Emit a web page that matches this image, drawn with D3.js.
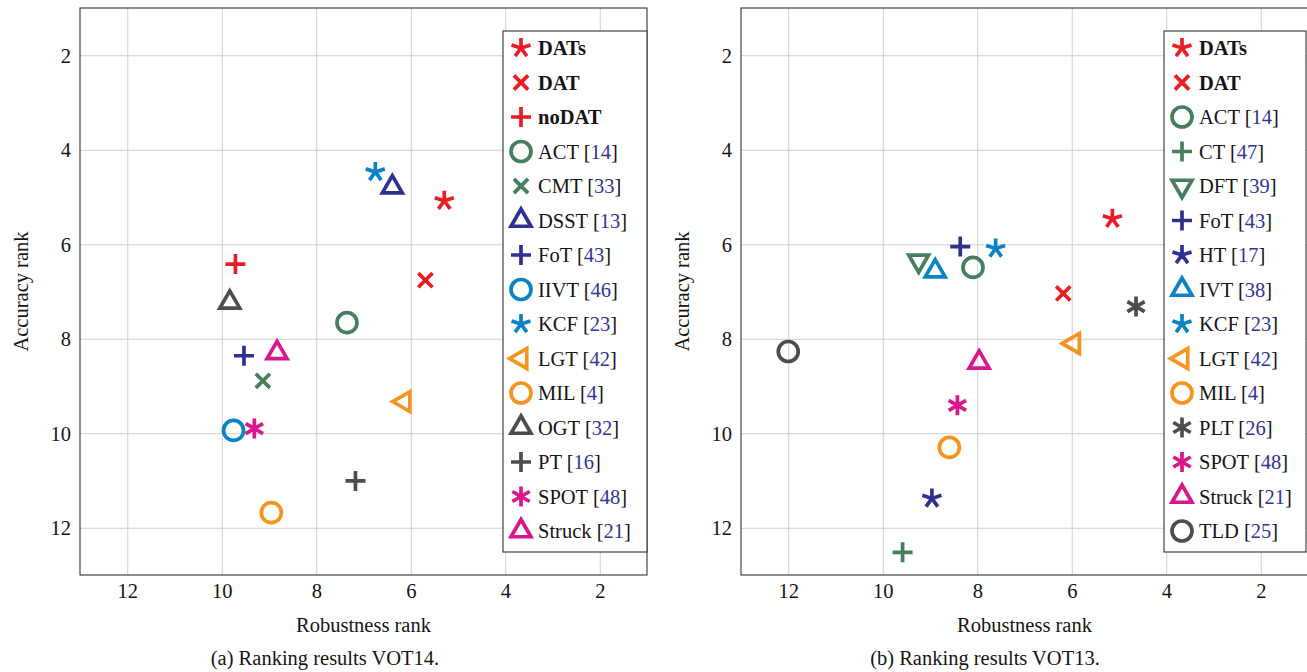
<!DOCTYPE html>
<html><head><meta charset="utf-8">
<script src="https://cdn.jsdelivr.net/npm/d3@7"></script>
<style>
body{margin:0;background:#fff}
svg{display:block}
text{font-family:"Liberation Serif","Times New Roman",serif;fill:#151515}
</style>
</head><body><svg id="c" width="1307" height="672"></svg>
<script>
// ---------- data ----------
const xTickValues = [12, 10, 8, 6, 4, 2];
const yTickValues = [2, 4, 6, 8, 10, 12];
const xDomain = [13, 1];
const yDomain = [1, 13];

const vot14Trackers   = ["DATs","DAT","noDAT","ACT","CMT","DSST","FoT","IIVT","KCF","LGT","MIL","OGT","PT","SPOT","Struck"];
const vot14Refs       = ["","","","14","33","13","43","46","23","42","4","32","16","48","21"];
const vot14Robustness = [5.29, 5.69, 9.71, 7.35, 9.13, 6.39, 9.53, 9.75, 6.75, 6.14, 8.95, 9.83, 7.17, 9.31, 8.83];
const vot14Accuracy   = [5.08, 6.76, 6.42, 7.66, 8.89, 4.79, 8.36, 9.94, 4.47, 9.33, 11.68, 7.23, 11.01, 9.90, 8.30];

const vot13Trackers   = ["DATs","DAT","ACT","CT","DFT","FoT","HT","IVT","KCF","LGT","MIL","PLT","SPOT","Struck","TLD"];
const vot13Refs       = ["","","14","47","39","43","17","38","23","42","4","26","48","21","25"];
const vot13Robustness = [5.14, 6.18, 8.09, 9.58, 9.24, 8.36, 8.96, 8.89, 7.61, 5.96, 8.59, 4.64, 8.42, 7.96, 12.0];
const vot13Accuracy   = [5.46, 7.04, 6.49, 12.52, 6.35, 6.05, 11.38, 6.57, 6.09, 8.10, 10.30, 7.32, 9.41, 8.50, 8.27];

const xLabel = "Robustness rank";
const yLabel = "Accuracy rank";
const captions = ["(a) Ranking results VOT14.", "(b) Ranking results VOT13."];

// ---------- styles ----------
const C = {
  red: "#ec1c24", green: "#457f5e", navy: "#2e3192", blue: "#0a83c6",
  orange: "#f7941d", gray: "#4d4d4f", magenta: "#d7178a"
};
const markStyle = {
  DATs:{shape:"star",color:C.red}, DAT:{shape:"x",color:C.red}, noDAT:{shape:"plus",color:C.red},
  ACT:{shape:"circle",color:C.green}, CMT:{shape:"x",color:C.green}, CT:{shape:"plus",color:C.green},
  DFT:{shape:"tridown",color:C.green},
  DSST:{shape:"tri",color:C.navy}, FoT:{shape:"plus",color:C.navy}, HT:{shape:"star",color:C.navy},
  IIVT:{shape:"circle",color:C.blue}, IVT:{shape:"tri",color:C.blue}, KCF:{shape:"star",color:C.blue},
  LGT:{shape:"trileft",color:C.orange}, MIL:{shape:"circle",color:C.orange},
  OGT:{shape:"tri",color:C.gray}, PT:{shape:"plus",color:C.gray}, PLT:{shape:"asterisk",color:C.gray},
  TLD:{shape:"circle",color:C.gray},
  SPOT:{shape:"asterisk",color:C.magenta}, Struck:{shape:"tri",color:C.magenta}
};
const SW = 3.7;

function markPath(shape){
  const p = d3.path();
  const a = 10, r = 11.5;
  const rad = d => d*Math.PI/180;
  if (shape === "star"){
    for (let k=0;k<5;k++){ const t=rad(-90+72*k); p.moveTo(0,0); p.lineTo(a*Math.cos(t), a*Math.sin(t)); }
  } else if (shape === "asterisk"){
    [90,30,-30].forEach(d=>{ const t=rad(d); p.moveTo(-a*Math.cos(t),-a*Math.sin(t)); p.lineTo(a*Math.cos(t),a*Math.sin(t)); });
  } else if (shape === "plus"){
    p.moveTo(-a,0); p.lineTo(a,0); p.moveTo(0,-a); p.lineTo(0,a);
  } else if (shape === "x"){
    const b = a*Math.SQRT1_2;
    p.moveTo(-b,-b); p.lineTo(b,b); p.moveTo(-b,b); p.lineTo(b,-b);
  } else if (shape === "circle"){
    p.moveTo(a,0); p.arc(0,0,a,0,2*Math.PI);
  } else if (shape === "tri"){
    p.moveTo(0,-r); p.lineTo(0.866*r,0.5*r); p.lineTo(-0.866*r,0.5*r); p.closePath();
  } else if (shape === "tridown"){
    p.moveTo(0,r); p.lineTo(0.866*r,-0.5*r); p.lineTo(-0.866*r,-0.5*r); p.closePath();
  } else if (shape === "trileft"){
    p.moveTo(-r,0); p.lineTo(0.5*r,-0.866*r); p.lineTo(0.5*r,0.866*r); p.closePath();
  }
  return p.toString();
}

const svg = d3.select("#c");
const FS = 20.5;

function drawPanel(cfg, names, refs, rob, acc){
  const x = d3.scaleLinear().domain(xDomain).range([cfg.left, cfg.right]);
  const y = d3.scaleLinear().domain(yDomain).range([cfg.top, cfg.bottom]);
  const g = svg.append("g");
  const H = cfg.bottom - cfg.top, W = cfg.right - cfg.left;

  // grid
  const gx = g.append("g").attr("transform",`translate(0,${cfg.bottom})`)
    .call(d3.axisBottom(x).tickValues(xTickValues).tickSize(-H).tickFormat(""));
  const gy = g.append("g").attr("transform",`translate(${cfg.left},0)`)
    .call(d3.axisLeft(y).tickValues(yTickValues).tickSize(-W).tickFormat(""));
  [gx,gy].forEach(s=>{ s.select(".domain").remove(); s.selectAll("line").attr("stroke","#cfcfcf").attr("stroke-width",1); });

  // frame
  g.append("rect").attr("x",cfg.left).attr("y",cfg.top).attr("width",W).attr("height",H)
    .attr("fill","none").attr("stroke","#333").attr("stroke-width",1.1);

  // tick labels
  const lx = g.append("g").attr("transform",`translate(0,${cfg.bottom})`)
    .call(d3.axisBottom(x).tickValues(xTickValues).tickSize(0).tickPadding(0).tickFormat(d3.format("d")));
  lx.select(".domain").remove();
  lx.selectAll("text").attr("dy",null).attr("y",23).style("font-size",FS+"px").attr("fill","#151515")
    .style("font-family","'Liberation Serif',serif");
  const ly = g.append("g").attr("transform",`translate(${cfg.left},0)`)
    .call(d3.axisLeft(y).tickValues(yTickValues).tickSize(0).tickPadding(0).tickFormat(d3.format("d")));
  ly.select(".domain").remove();
  ly.selectAll("text").attr("dy",null).attr("x",-9).attr("y",7).style("font-size",FS+"px").attr("fill","#151515")
    .style("font-family","'Liberation Serif',serif");

  // axis labels
  g.append("text").attr("x",(cfg.left+cfg.right)/2).attr("y",cfg.bottom+57).attr("text-anchor","middle")
    .style("font-size",FS+"px").text(xLabel);
  g.append("text").attr("transform",`translate(${cfg.left-52},${(cfg.top+cfg.bottom)/2}) rotate(-90)`)
    .attr("text-anchor","middle").style("font-size",FS+"px").text(yLabel);
  g.append("text").attr("x",cfg.captionX).attr("y",665).attr("text-anchor","middle")
    .style("font-size",FS+"px").text(cfg.caption);

  // marks
  const data = names.map((n,i)=>({name:n, ref:refs[i], r:rob[i], a:acc[i]}));
  g.append("g").selectAll("path").data(data).join("path")
    .attr("transform",d=>`translate(${x(d.r)},${y(d.a)})`)
    .attr("d",d=>markPath(markStyle[d.name].shape))
    .attr("fill","none").attr("stroke",d=>markStyle[d.name].color)
    .attr("stroke-width",SW).attr("stroke-linejoin","miter").attr("stroke-miterlimit",10);

  // legend
  const L = g.append("g");
  L.append("rect").attr("x",cfg.legX).attr("y",31).attr("width",cfg.legW).attr("height",521)
    .attr("fill","#fff").attr("stroke","#333").attr("stroke-width",1.1);
  const rows = L.selectAll("g.row").data(data).join("g").attr("class","row")
    .attr("transform",(d,i)=>`translate(${cfg.legX},${48+i*34.5})`);
  rows.append("path").attr("transform","translate(18,0)")
    .attr("d",d=>markPath(markStyle[d.name].shape))
    .attr("fill","none").attr("stroke",d=>markStyle[d.name].color)
    .attr("stroke-width",SW).attr("stroke-linejoin","miter").attr("stroke-miterlimit",10);
  const t = rows.append("text").attr("x",35).attr("y",7).style("font-size",FS+"px");
  t.each(function(d){
    const s = d3.select(this);
    if (!d.ref){ s.append("tspan").style("font-weight","bold").text(d.name); }
    else {
      s.append("tspan").text(d.name+" [");
      s.append("tspan").attr("fill","#333399").text(d.ref);
      s.append("tspan").text("]");
    }
  });
}

drawPanel({left:80, right:647, top:8, bottom:575, legX:503, legW:144, caption:captions[0], captionX:325},
  vot14Trackers, vot14Refs, vot14Robustness, vot14Accuracy);
drawPanel({left:741, right:1308, top:8, bottom:575, legX:1164, legW:142, caption:captions[1], captionX:985},
  vot13Trackers, vot13Refs, vot13Robustness, vot13Accuracy);
</script>
</body></html>
